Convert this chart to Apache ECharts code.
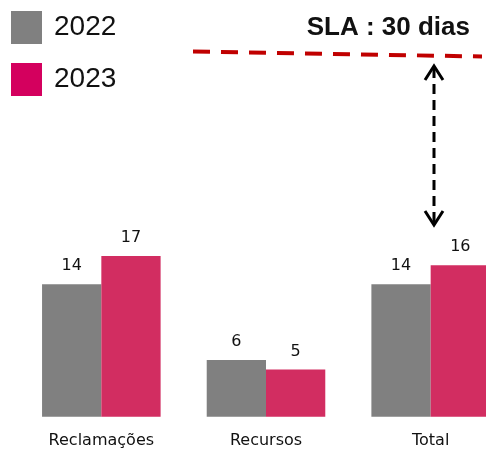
<!DOCTYPE html>
<html>
<head>
<meta charset="utf-8">
<script src="https://cdn.jsdelivr.net/npm/echarts@6/dist/echarts.min.js"></script>
<style>
  html, body { margin: 0; padding: 0; background: #fff; overflow: hidden; }
  /* the last bar runs past the right edge in the original, so the canvas is a bit wider than the window */
  #chart { width: 513px; height: 449px; }
</style>
</head>
<body>
<div id="chart"></div>
<script>
// data
var categories = ['Reclamações', 'Recursos', 'Total']
var values2022 = [14, 6, 14]
var values2023 = [17, 5, 16]
var seriesNames = ['2022', '2023']
var slaText = 'SLA : 30 dias'

var chart = echarts.init(document.getElementById('chart'))

var labelStyle = {
  show: true,
  position: 'top',
  distance: 10,
  color: '#111',
  fontFamily: 'DejaVu Sans',
  fontSize: 16
}

var option = {
  animation: false,
  legend: {
    orient: 'vertical',
    left: 11,
    top: 11,
    padding: 0,
    itemWidth: 31,
    itemHeight: 33,
    itemGap: 19,
    selectedMode: false,
    textStyle: {
      fontFamily: 'Liberation Sans',
      fontSize: 28,
      color: '#111',
      padding: [0, 0, 0, 7]
    },
    data: [
      { name: seriesNames[0], icon: 'rect', itemStyle: { color: '#808080' } },
      { name: seriesNames[1], icon: 'rect', itemStyle: { color: '#D4005E' } }
    ]
  },
  grid: {
    left: 19,
    right: 0,
    top: 227.5,
    bottom: 32.3,
    containLabel: false
  },
  xAxis: {
    type: 'category',
    data: categories,
    axisLine: { show: false },
    axisTick: { show: false },
    axisLabel: {
      margin: 16,
      color: '#111',
      fontFamily: 'DejaVu Sans',
      fontSize: 16
    }
  },
  yAxis: {
    type: 'value',
    min: 0,
    max: 20,
    show: false,
    splitLine: { show: false }
  },
  series: [
    {
      name: seriesNames[0],
      type: 'bar',
      data: values2022,
      barGap: '0%',
      barCategoryGap: '28%',
      itemStyle: { color: '#808080' },
      label: labelStyle
    },
    {
      name: seriesNames[1],
      type: 'bar',
      data: values2023,
      itemStyle: { color: '#D22D61' },
      label: labelStyle
    }
  ],
  graphic: [
    {
      // SLA reference line (decorative)
      type: 'line',
      shape: { x1: 193, y1: 51.5, x2: 482, y2: 56.5 },
      style: { stroke: '#C00000', lineWidth: 4, lineDash: [17, 11] }
    },
    {
      type: 'text',
      x: 470,
      y: 28,
      style: {
        text: slaText,
        fill: '#111',
        align: 'right',
        verticalAlign: 'middle',
        font: 'bold 26px "Liberation Sans"'
      }
    },
    {
      // double arrow
      type: 'line',
      shape: { x1: 434, y1: 68, x2: 434, y2: 222 },
      style: { stroke: '#000', lineWidth: 3, lineDash: [10, 6] }
    },
    {
      type: 'polyline',
      shape: { points: [[425, 80], [434, 66], [443, 80]] },
      style: { stroke: '#000', lineWidth: 3, fill: null }
    },
    {
      type: 'polyline',
      shape: { points: [[425, 211], [434, 225], [443, 211]] },
      style: { stroke: '#000', lineWidth: 3, fill: null }
    }
  ]
}

chart.setOption(option)
</script>
</body>
</html>
